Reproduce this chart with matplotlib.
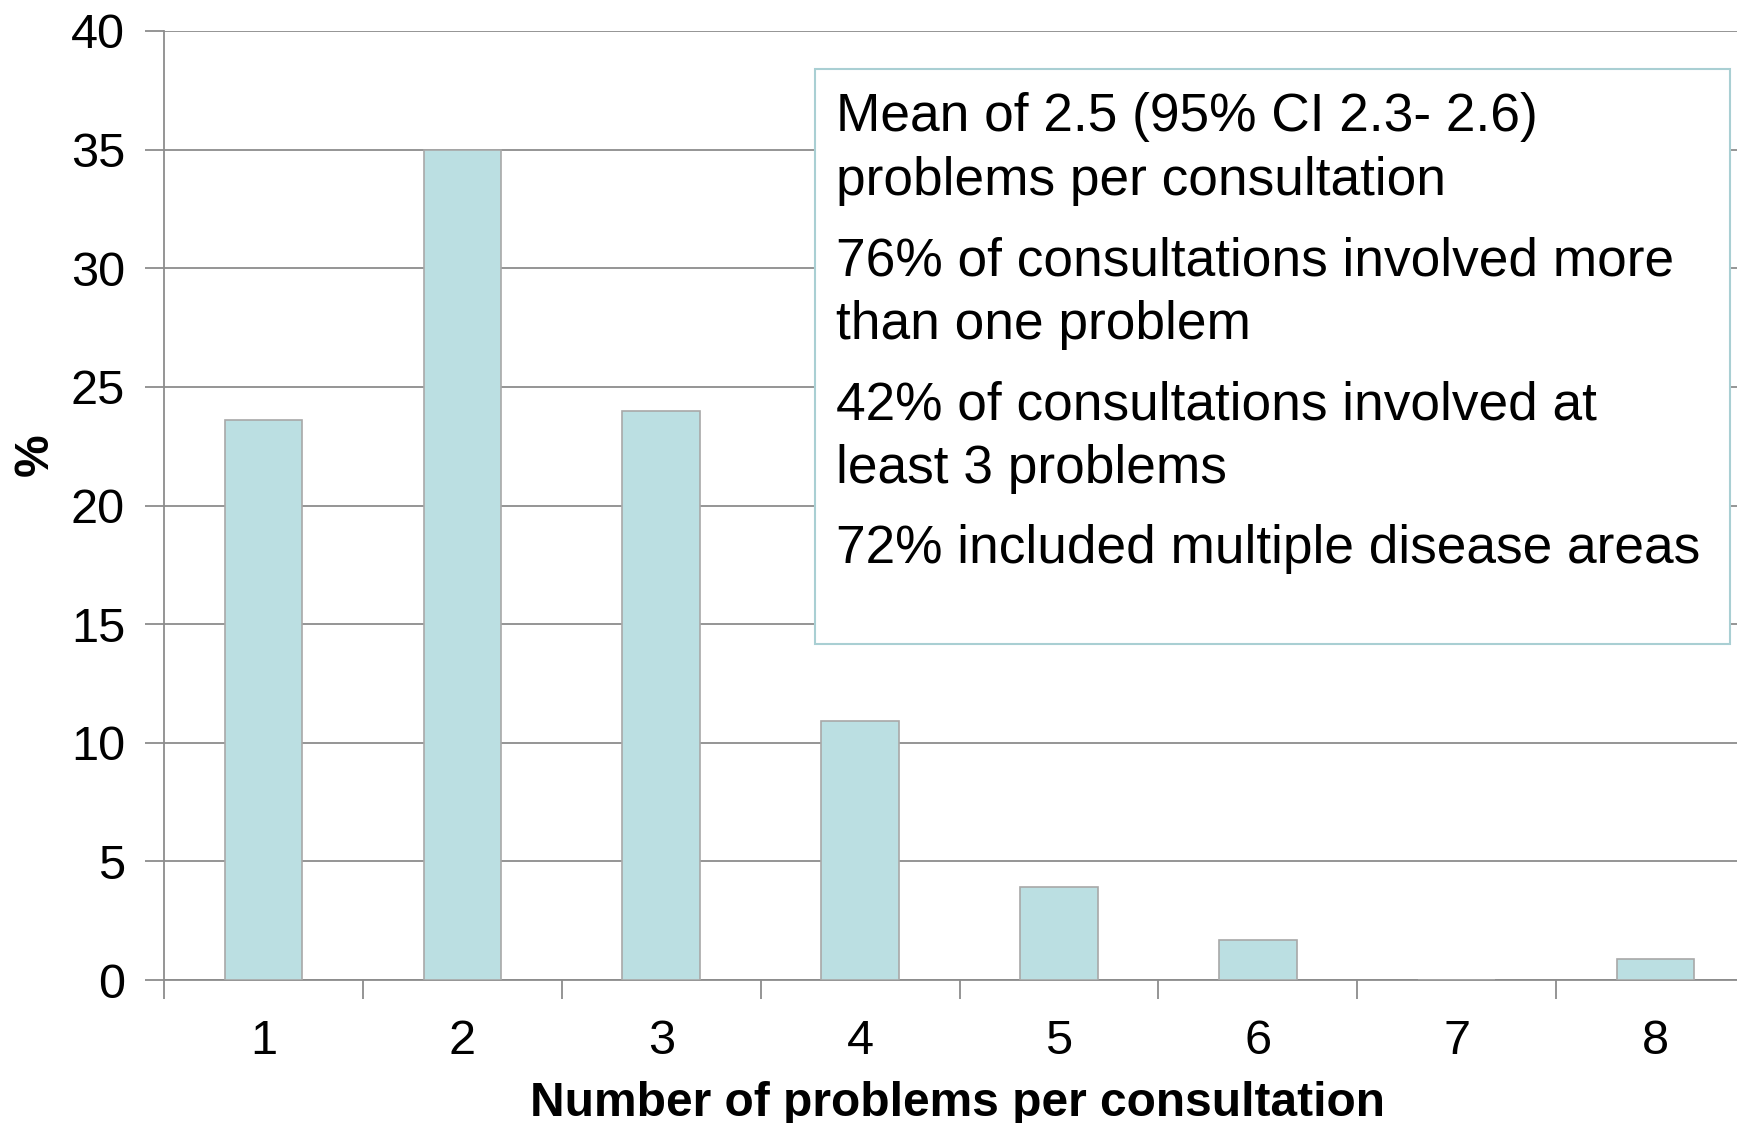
import matplotlib.pyplot as plt
from matplotlib.patches import Rectangle

plt.rcParams['font.family'] = ['Liberation Sans', 'DejaVu Sans']

problems = [1, 2, 3, 4, 5, 6, 7, 8]
percent = [23.6, 35.0, 24.0, 10.9, 3.9, 1.7, 0.0, 0.9]

notes = [
    ["Mean of 2.5 (95% CI 2.3- 2.6)", "problems per consultation"],
    ["76% of consultations involved more", "than one problem"],
    ["42% of consultations involved at", "least 3 problems"],
    ["72% included multiple disease areas"],
]

W, H = 1737, 1123
fig = plt.figure(figsize=(W / 100, H / 100), dpi=100)
ax = fig.add_axes([164 / W, 1 - 980 / H, (1755 - 164) / W, (980 - 31) / H])

ax.bar(problems, percent, width=0.39, color='#bbdfe2', edgecolor='#a8a8a8',
       linewidth=1.2, zorder=3)

ax.set_xlim(0.5, 8.5)
ax.set_ylim(0, 40)
ax.set_yticks(range(0, 41, 5))
ax.set_xticks(problems)
ax.set_xticks([p + 0.5 for p in [0] + problems], minor=True)
ax.grid(axis='y', color='#8c8c8c', linewidth=1.3, zorder=0)

ax.tick_params(axis='x', which='major', length=0, labelsize=35, pad=28)
ax.tick_params(axis='x', which='minor', length=14, width=1.3, color='#8c8c8c')
ax.tick_params(axis='y', length=14, width=1.3, color='#8c8c8c', labelsize=35, pad=14)

for side in ['top', 'right']:
    ax.spines[side].set_visible(False)
for side in ['left', 'bottom']:
    ax.spines[side].set_color('#8c8c8c')
    ax.spines[side].set_linewidth(1.3)

fig.text(958 / W, 1 - 1103 / H, "Number of problems per consultation",
         fontsize=34.5, fontweight='bold', ha='center', va='center')
fig.text(35 / W, 1 - 455 / H, "%", fontsize=34.5, fontweight='bold',
         rotation=90, ha='center', va='center')

# annotation box
box = Rectangle((815 / W, 1 - 644 / H), (1730 - 815) / W, (644 - 69) / H,
                transform=fig.transFigure, facecolor='white',
                edgecolor='#a9cfd3', linewidth=1.5, zorder=5)
fig.patches.append(box)
for i, para in enumerate(notes):
    for j, line in enumerate(para):
        y = 117.5 + 144 * i + 63 * j
        fig.text(836 / W, 1 - y / H, line, fontsize=38.3, ha='left',
                 va='center', zorder=6)

fig.savefig('out.png', dpi=100)
